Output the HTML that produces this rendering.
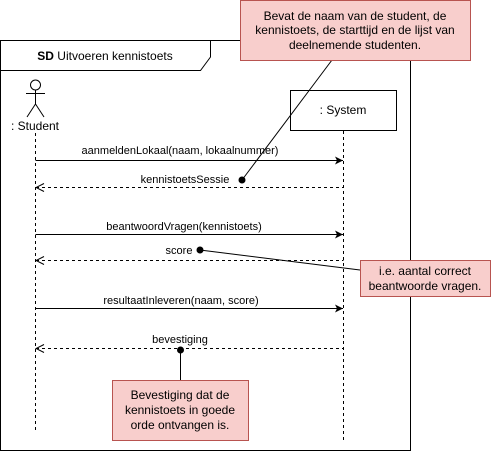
<!DOCTYPE html>
<html><head><meta charset="utf-8"><style>
html,body{margin:0;padding:0;background:#fff;}
svg{display:block;font-family:"Liberation Sans",Arial,sans-serif;}
</style></head><body>
<svg width="497" height="451" viewBox="0 0 497 451" xmlns="http://www.w3.org/2000/svg">
<defs>
<marker id="a" markerWidth="10" markerHeight="10" refX="9" refY="5" orient="auto" markerUnits="userSpaceOnUse"><path d="M1,1 L9,5 L1,9 L3,5 Z" fill="#000"/></marker>
<marker id="o" markerWidth="10" markerHeight="10" refX="1" refY="5" orient="auto" markerUnits="userSpaceOnUse"><path d="M9,1 L1,5 L9,9" fill="none" stroke="#000"/></marker>
</defs>
<rect x="0.5" y="40.5" width="410" height="410" fill="#fff" stroke="#000"/>
<path d="M0.5 70.5 H200.5 L210.5 57 V40.5" fill="none" stroke="#000"/>
<text x="105" y="60" font-size="12" text-anchor="middle"><tspan font-weight="bold">SD</tspan> Uitvoeren kennistoets</text>
<!-- actor -->
<circle cx="35.5" cy="85" r="5" fill="#fff" stroke="#000"/>
<path d="M35.5 90 V104 M26 93.5 H45 M35.5 104 L27 117 M35.5 104 L44 117" stroke="#000" fill="none"/>
<text x="35" y="130" font-size="12" text-anchor="middle">: Student</text>
<line x1="35.5" y1="133" x2="35.5" y2="430" stroke="#000" stroke-dasharray="3,3"/>
<!-- system -->
<rect x="290.5" y="90.5" width="106" height="40" fill="#fff" stroke="#000"/>
<text x="343" y="114" font-size="12" text-anchor="middle">: System</text>
<line x1="343.5" y1="131" x2="343.5" y2="440" stroke="#000" stroke-dasharray="3,3"/>
<!-- messages -->
<line x1="35.5" y1="160.5" x2="343" y2="160.5" stroke="#000" marker-end="url(#a)"/>
<text x="180" y="154" font-size="11" text-anchor="middle">aanmeldenLokaal(naam, lokaalnummer)</text>
<line x1="36" y1="187.5" x2="343.5" y2="187.5" stroke="#000" stroke-dasharray="3,3" marker-start="url(#o)"/>
<text x="185" y="183" font-size="11" text-anchor="middle">kennistoetsSessie</text>
<line x1="35.5" y1="234.5" x2="343" y2="234.5" stroke="#000" marker-end="url(#a)"/>
<text x="184" y="230" font-size="11" text-anchor="middle">beantwoordVragen(kennistoets)</text>
<line x1="36" y1="260.5" x2="343.5" y2="260.5" stroke="#000" stroke-dasharray="3,3" marker-start="url(#o)"/>
<text x="179" y="254" font-size="11" text-anchor="middle">score</text>
<line x1="35.5" y1="308.5" x2="343" y2="308.5" stroke="#000" marker-end="url(#a)"/>
<text x="181" y="304" font-size="11" text-anchor="middle">resultaatInleveren(naam, score)</text>
<line x1="36" y1="348.5" x2="343.5" y2="348.5" stroke="#000" stroke-dasharray="3,3" marker-start="url(#o)"/>
<text x="180" y="343" font-size="11" text-anchor="middle">bevestiging</text>
<!-- note connectors -->
<line x1="332" y1="60" x2="242" y2="180" stroke="#000"/>
<circle cx="242" cy="180" r="3.5" fill="#000"/>
<line x1="200" y1="250" x2="360" y2="270" stroke="#000"/>
<circle cx="200" cy="250" r="3.5" fill="#000"/>
<line x1="180.5" y1="350" x2="180.5" y2="380" stroke="#000"/>
<circle cx="180.5" cy="350" r="3.5" fill="#000"/>
<!-- notes -->
<rect x="240.5" y="0.5" width="230" height="60" fill="#f8cecc" stroke="#b85450"/>
<g font-size="12" text-anchor="middle" fill="#000">
<text x="355" y="20">Bevat de naam van de student, de</text>
<text x="355" y="34">kennistoets, de starttijd en de lijst van</text>
<text x="355" y="49">deelnemende studenten.</text>
</g>
<rect x="360.5" y="260.5" width="130" height="36" fill="#f8cecc" stroke="#b85450"/>
<g font-size="12" text-anchor="middle">
<text x="425" y="275">i.e. aantal correct</text>
<text x="425" y="290">beantwoorde vragen.</text>
</g>
<rect x="112.5" y="380.5" width="136" height="60" fill="#f8cecc" stroke="#b85450"/>
<g font-size="12" text-anchor="middle">
<text x="180" y="399">Bevestiging dat de</text>
<text x="180" y="414">kennistoets in goede</text>
<text x="180" y="429">orde ontvangen is.</text>
</g>
</svg>
</body></html>
